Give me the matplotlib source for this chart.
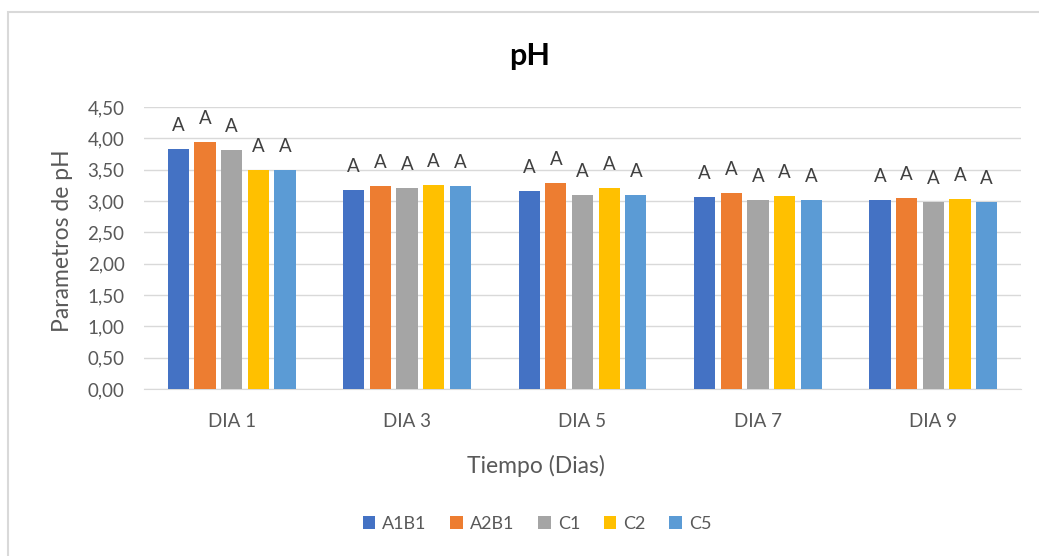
import numpy as np
import matplotlib.pyplot as plt
from matplotlib.patches import Rectangle

plt.rcParams['font.family'] = ['Lato', 'DejaVu Sans']

dias = ['DIA 1', 'DIA 3', 'DIA 5', 'DIA 7', 'DIA 9']
tratamientos = ['A1B1', 'A2B1', 'C1', 'C2', 'C5']
a1b1 = [3.83, 3.17, 3.16, 3.06, 3.01]
a2b1 = [3.94, 3.24, 3.29, 3.12, 3.05]
c1 = [3.82, 3.20, 3.09, 3.01, 2.99]
c2 = [3.50, 3.25, 3.20, 3.08, 3.03]
c5 = [3.50, 3.24, 3.10, 3.01, 2.99]
letras = 'A'

colores = ['#4472C4', '#ED7D31', '#A5A5A5', '#FFC000', '#5B9BD5']
series = [a1b1, a2b1, c1, c2, c5]
gris = '#595959'

fig = plt.figure(figsize=(10.39, 5.56), dpi=100)
# marco del grafico (se corta por la derecha y por abajo)
fig.patches.append(Rectangle((0.0077, -0.05), 1.05, 1.028, transform=fig.transFigure,
                             fill=False, edgecolor='#D9D9D9', linewidth=1.5))
ax = fig.add_axes([0.1386, 0.3004, 0.8441, 0.5072])

x = np.arange(len(dias))
paso = 0.152
ancho = 0.121
for i, (nombre, valores) in enumerate(zip(tratamientos, series)):
    pos = x + (i - 2) * paso
    ax.bar(pos, valores, ancho, color=colores[i], label=nombre, zorder=3)
    for p, v in zip(pos, valores):
        ax.annotate(letras, (p, v), xytext=(0, 13), textcoords='offset points',
                    ha='center', va='baseline', fontsize=13.5, color='#404040')

ax.set_xlim(-0.5, 4.5)
ax.set_ylim(0, 4.5)
yt = np.arange(0, 4.51, 0.5)
ax.set_yticks(yt)
ax.set_yticklabels([f'{t:.2f}'.replace('.', ',') for t in yt])
ax.set_xticks(x)
ax.set_xticklabels(dias)
ax.tick_params(length=0, labelsize=13.5, colors=gris)
ax.tick_params(axis='y', pad=14)
ax.tick_params(axis='x', pad=17)
ax.grid(axis='y', color='#D9D9D9', linewidth=1, zorder=0)
for s in ['top', 'right', 'left']:
    ax.spines[s].set_visible(False)
ax.spines['bottom'].set_color('#D9D9D9')

fig.text(0.5096, 0.883, 'pH', fontsize=22, fontweight='bold', color='black',
         ha='center', va='baseline')
fig.text(0.0606, 0.568, 'Parametros de pH', fontsize=16.5, color=gris,
         rotation=90, ha='center', va='center')
fig.text(0.516, 0.149, 'Tiempo (Dias)', fontsize=16.5, color=gris,
         ha='center', va='baseline')

fig.legend(loc='center', bbox_to_anchor=(0.517, 0.0576), ncol=5, frameon=False,
           fontsize=13, handlelength=0.7, handleheight=0.7, columnspacing=1.3,
           handletextpad=0.4, labelcolor=gris)

fig.savefig('out.png', dpi=100)
